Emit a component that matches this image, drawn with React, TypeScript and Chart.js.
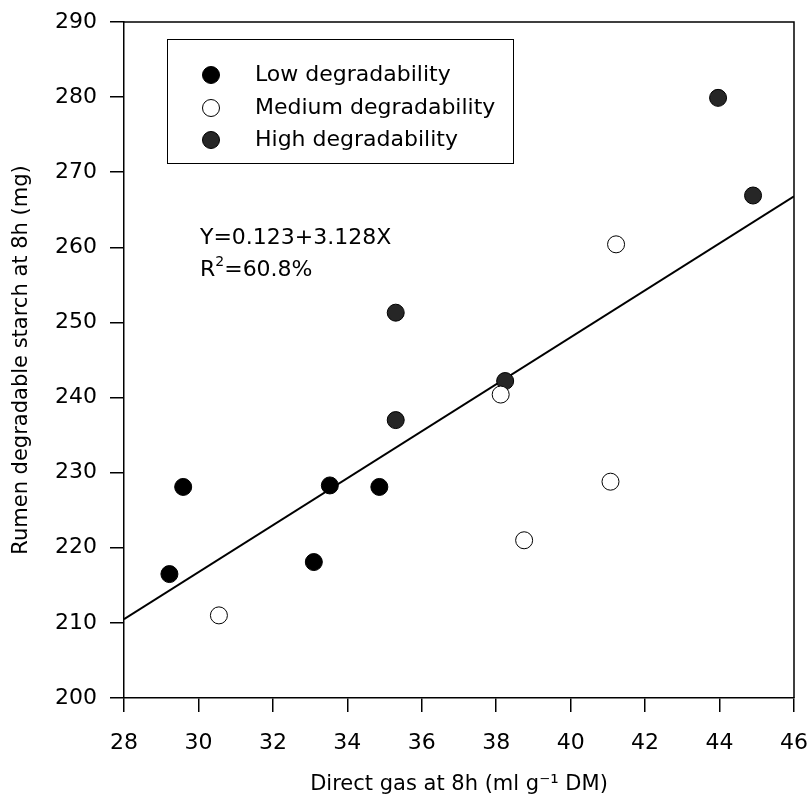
import React, { useEffect, useRef } from "react";
import { Chart, registerables } from "chart.js";

Chart.register(...registerables);

// Data
const lowX = [29.22, 29.59, 33.1, 33.53, 34.86];
const lowY = [216.5, 228.1, 218.1, 228.3, 228.1];
const medX = [30.55, 38.12, 38.75, 41.07, 41.22];
const medY = [211.0, 240.4, 221.0, 228.8, 260.4];
const highX = [35.3, 35.3, 38.24, 43.96, 44.9];
const highY = [251.3, 237.0, 242.2, 279.9, 266.9];
const fitX = [28, 46];
const fitY = [210.5, 266.8];

const xTicks = [28, 30, 32, 34, 36, 38, 40, 42, 44, 46];
const yTicks = [200, 210, 220, 230, 240, 250, 260, 270, 280, 290];

const legendLabels = ["Low degradability", "Medium degradability", "High degradability"];
const eqLine1 = "Y=0.123+3.128X";
const eqR = "R";
const eqSup = "2";
const eqRest = "=60.8%";

const FONT = "'DejaVu Sans', Arial, sans-serif";

const zip = (xs: number[], ys: number[]) => xs.map((x, i) => ({ x, y: ys[i] }));

export default function App() {
  const ref = useRef<HTMLCanvasElement | null>(null);

  useEffect(() => {
    document.body.style.margin = "0";
    const canvas = ref.current!;
    const lowColor = "#000000";
    const highColor = "#262626";

    const overlay = {
      id: "overlay",
      afterDraw(chart: any) {
        const ctx = chart.ctx;
        const a = chart.chartArea;
        ctx.save();
        // frame top & right
        ctx.strokeStyle = "#000";
        ctx.lineWidth = 1.5;
        ctx.beginPath();
        ctx.moveTo(a.left, a.top);
        ctx.lineTo(a.right, a.top);
        ctx.lineTo(a.right, a.bottom);
        ctx.stroke();

        // legend box
        const bx = 167, by = 39, bw = 346, bh = 124;
        ctx.lineWidth = 1;
        ctx.strokeStyle = "#000";
        ctx.fillStyle = "#fff";
        ctx.fillRect(bx, by, bw, bh);
        ctx.strokeRect(bx + 0.5, by + 0.5, bw, bh);
        const rowsY = [75, 108, 140];
        const fills = [lowColor, "#ffffff", highColor];
        ctx.font = `22px ${FONT}`;
        ctx.textBaseline = "middle";
        ctx.textAlign = "left";
        rowsY.forEach((ry, i) => {
          ctx.beginPath();
          ctx.arc(211, ry, 8.5, 0, Math.PI * 2);
          ctx.fillStyle = fills[i];
          ctx.fill();
          ctx.lineWidth = 1;
          ctx.strokeStyle = "#000";
          ctx.stroke();
          ctx.fillStyle = "#000";
          ctx.fillText(legendLabels[i], 255, ry);
        });

        // equation
        ctx.fillStyle = "#000";
        ctx.font = `22px ${FONT}`;
        ctx.fillText(eqLine1, 200, 238);
        let x = 200;
        ctx.fillText(eqR, x, 270);
        x += ctx.measureText(eqR).width;
        ctx.font = `14px ${FONT}`;
        ctx.fillText(eqSup, x, 262);
        x += ctx.measureText(eqSup).width;
        ctx.font = `22px ${FONT}`;
        ctx.fillText(eqRest, x, 270);
        ctx.restore();
      },
    };

    const chart = new Chart(canvas, {
      type: "scatter",
      data: {
        datasets: [
          {
            label: legendLabels[0],
            data: zip(lowX, lowY),
            backgroundColor: lowColor,
            borderColor: "#000",
            borderWidth: 1,
            pointRadius: 8.5,
          },
          {
            label: legendLabels[1],
            data: zip(medX, medY),
            backgroundColor: "#fff",
            borderColor: "#000",
            borderWidth: 1,
            pointRadius: 8.5,
          },
          {
            label: legendLabels[2],
            data: zip(highX, highY),
            backgroundColor: highColor,
            borderColor: "#000",
            borderWidth: 1,
            pointRadius: 8.5,
          },
          {
            type: "line",
            label: "fit",
            data: zip(fitX, fitY),
            borderColor: "#000",
            borderWidth: 2,
            pointRadius: 0,
            showLine: true,
            fill: false,
          } as any,
        ],
      },
      options: {
        animation: false,
        responsive: false,
        maintainAspectRatio: false,
        layout: { padding: { left: 9, right: 18, top: 22, bottom: 6 } },
        plugins: {
          legend: { display: false },
          tooltip: { enabled: false },
        },
        scales: {
          x: {
            type: "linear",
            min: 28,
            max: 46,
            afterBuildTicks: (s: any) => {
              s.ticks = xTicks.map((v) => ({ value: v }));
            },
            afterFit: (s: any) => {
              s.height = 99;
              s.paddingLeft = 0;
              s.paddingRight = 0;
            },
            ticks: {
              color: "#000",
              font: { family: FONT, size: 22 },
              padding: 18,
              maxRotation: 0,
              autoSkip: false,
            },
            grid: {
              display: true,
              drawOnChartArea: false,
              drawTicks: true,
              tickLength: 14,
              color: "#000",
              lineWidth: 1.5,
            },
            border: { display: true, color: "#000", width: 1.5 },
            title: {
              display: true,
              text: "Direct gas at 8h (ml g\u207B\u00B9 DM)",
              color: "#000",
              font: { family: FONT, size: 21 },
              padding: 0,
            },
          },
          y: {
            type: "linear",
            min: 200,
            max: 290,
            afterBuildTicks: (s: any) => {
              s.ticks = yTicks.map((v) => ({ value: v }));
            },
            afterFit: (s: any) => {
              s.width = 115;
              s.paddingTop = 0;
              s.paddingBottom = 0;
            },
            ticks: {
              color: "#000",
              font: { family: FONT, size: 22 },
              padding: 13,
              autoSkip: false,
            },
            grid: {
              display: true,
              drawOnChartArea: false,
              drawTicks: true,
              tickLength: 14,
              color: "#000",
              lineWidth: 1.5,
            },
            border: { display: true, color: "#000", width: 1.5 },
            title: {
              display: true,
              text: "Rumen degradable starch at 8h (mg)",
              color: "#000",
              font: { family: FONT, size: 21 },
              padding: 0,
            },
          },
        },
      },
      plugins: [overlay],
    } as any);

    return () => chart.destroy();
  }, []);

  return (
    <div style={{ width: 812, height: 803, background: "#fff" }}>
      <canvas ref={ref} width={812} height={803} style={{ display: "block" }} />
    </div>
  );
}
